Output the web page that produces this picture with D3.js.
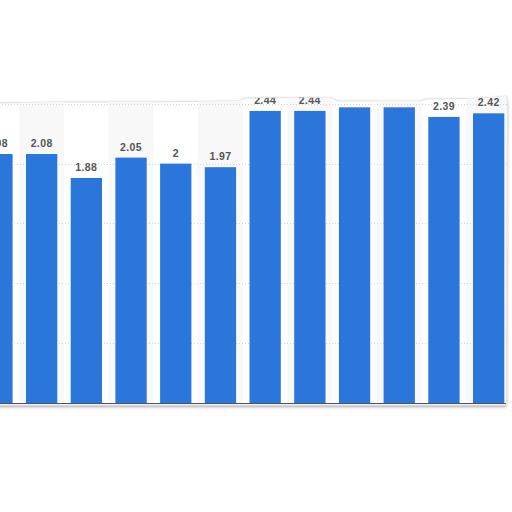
<!DOCTYPE html>
<html>
<head>
<meta charset="utf-8">
<script src="https://cdn.jsdelivr.net/npm/d3@7"></script>
<style>
	html, body { margin: 0; padding: 0; background: #fff; }
	svg { display: block; }
</style>
</head>
<body>
<div id="chart"></div>
<script>
// categories (no axis labels visible in the crop), one per bar
const categories = ['c1', 'c2', 'c3', 'c4', 'c5', 'c6', 'c7', 'c8', 'c9', 'c10', 'c11', 'c12'];
const values = [2.08, 2.08, 1.88, 2.05, 2, 1.97, 2.44, 2.44, 2.47, 2.47, 2.39, 2.42];
const gridTicks = [0.5, 1, 1.5, 2, 2.5];

const width = 512;
const height = 512;
const baseY = 403;
const topY = 103.75;

const svg = d3.select('#chart').append('svg')
	.attr('width', width)
	.attr('height', height);

const defs = svg.append('defs');

const shadow = defs.append('filter')
	.attr('id', 'paperShadow')
	.attr('x', '-5%').attr('y', '-5%')
	.attr('width', '110%').attr('height', '110%');
shadow.append('feDropShadow')
	.attr('dx', 0).attr('dy', 1.5)
	.attr('stdDeviation', 1.4)
	.attr('flood-color', '#000')
	.attr('flood-opacity', 0.35);

// torn piece of paper the chart sits on
const paperPath = 'M-10,104 L0,103 L60,102 L150,102 L238,101 L246,98 L300,97.5 L332,98 ' +
	'L338,101 L420,101 L426,99 L470,98.5 L498,97 L506,96 L507,102 L506,405 L-10,405 Z';

defs.append('clipPath')
	.attr('id', 'paperClip')
	.append('path')
	.attr('d', paperPath);

svg.append('path')
	.attr('d', paperPath)
	.attr('fill', '#fff')
	.attr('stroke', '#d8d8d8')
	.attr('stroke-width', 0.8)
	.attr('filter', 'url(#paperShadow)');

const chart = svg.append('g')
	.attr('clip-path', 'url(#paperClip)');

const x = d3.scaleBand()
	.domain(categories)
	.range([-25.4, 511])
	.paddingInner(0.3)
	.paddingOuter(0.15);

const y = d3.scaleLinear()
	.domain([0, 2.5])
	.range([baseY, topY]);

// alternating background stripes
chart.append('g')
	.selectAll('rect')
	.data(categories.filter((d, i) => i % 2 === 1))
	.join('rect')
		.attr('x', d => x(d) + x.bandwidth() / 2 - x.step() / 2)
		.attr('y', topY - 10)
		.attr('width', x.step())
		.attr('height', baseY - topY + 10)
		.attr('fill', '#f8f8f8');

// dotted grid lines
chart.append('g')
	.selectAll('line')
	.data(gridTicks)
	.join('line')
		.attr('x1', -10)
		.attr('x2', width)
		.attr('y1', d => Math.round(y(d)) + 0.5)
		.attr('y2', d => Math.round(y(d)) + 0.5)
		.attr('stroke', '#d6d6d6')
		.attr('stroke-width', 1)
		.attr('stroke-dasharray', '1,2');

chart.append('g')
	.selectAll('rect')
	.data(values)
	.join('rect')
		.attr('x', (d, i) => x(categories[i]))
		.attr('y', d => y(d))
		.attr('width', x.bandwidth())
		.attr('height', d => baseY - y(d))
		.attr('fill', '#2a76da');

chart.append('g')
	.selectAll('text')
	.data(values)
	.join('text')
		.text(d => String(d))
		.attr('x', (d, i) => x(categories[i]) + x.bandwidth() / 2)
		.attr('y', d => y(d) - 7)
		.attr('text-anchor', 'middle')
		.style('font-family', '"Liberation Sans", Arial, sans-serif')
		.style('font-weight', 'bold')
		.style('font-size', '10.5px')
		.style('letter-spacing', '0.4px')
		.attr('fill', '#555');

// baseline
chart.append('line')
	.attr('x1', -10)
	.attr('x2', width)
	.attr('y1', baseY + 0.5)
	.attr('y2', baseY + 0.5)
	.attr('stroke', '#4a5566')
	.attr('stroke-width', 1);
</script>
</body>
</html>
